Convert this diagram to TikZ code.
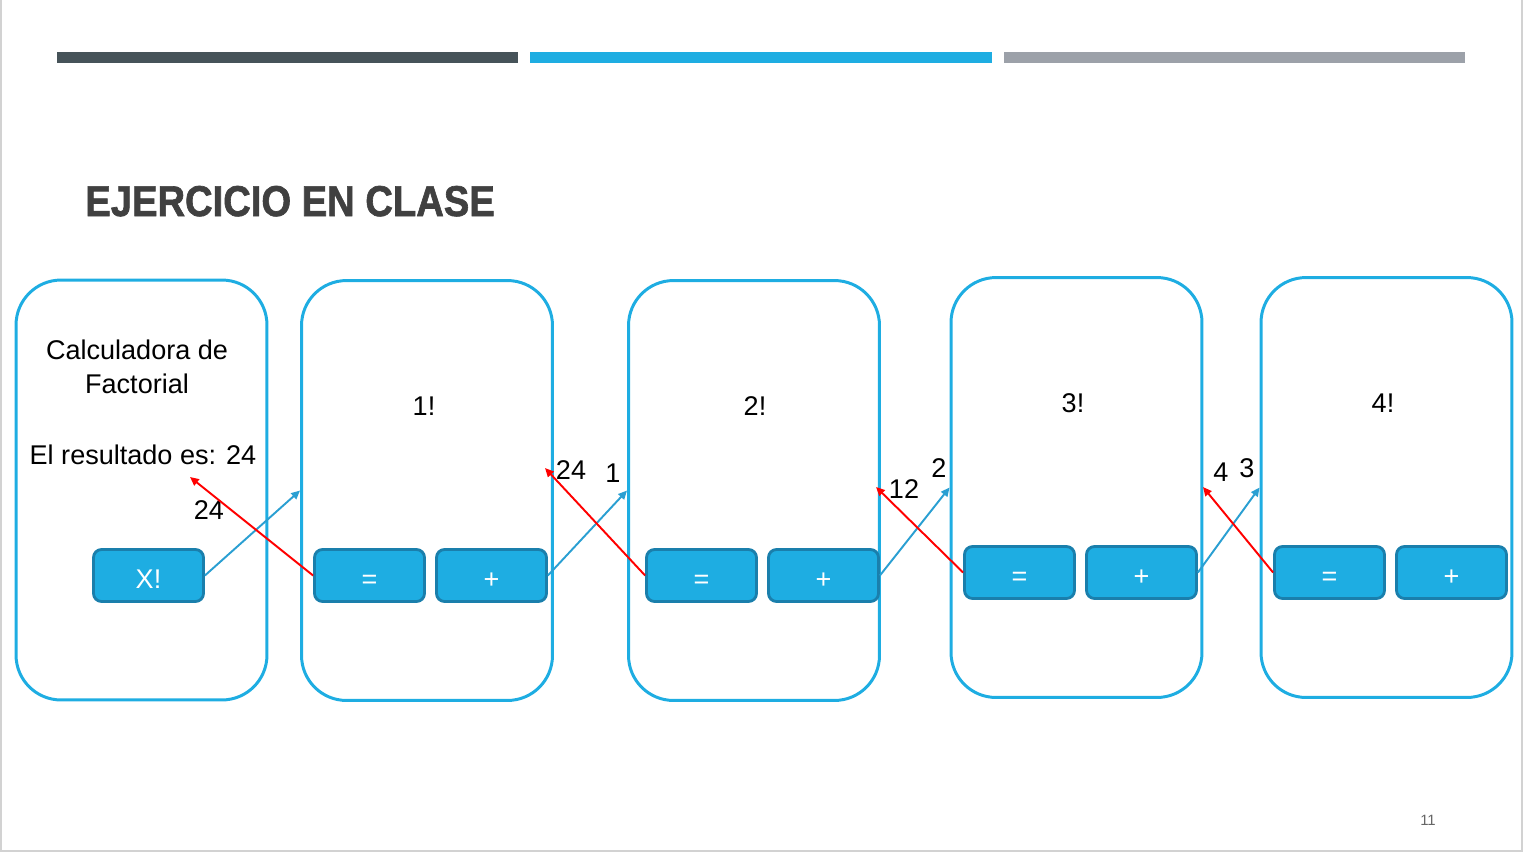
\documentclass[tikz,border=0pt]{standalone}
\usepackage{fontspec}
\setmainfont{Liberation Sans}
\newfontfamily\titfont{Liberation Sans Bold}[FakeBold=1.6]
\usetikzlibrary{arrows.meta}
\definecolor{azul}{HTML}{1EADE2}
\definecolor{azulosc}{HTML}{1A7FAC}
\definecolor{flecha}{HTML}{2A9FD2}
\definecolor{barra1}{HTML}{465359}
\definecolor{barra3}{HTML}{9CA1A9}
\definecolor{titulo}{HTML}{404040}
\newcommand{\txt}{\fontsize{15.4}{19.4}\selectfont}
\begin{document}
\begin{tikzpicture}[x = 0.02cm, y = -0.02cm,
	bigbox/.style = {draw = azul, line width = 1.7pt, rounded corners = 0.9cm, minimum width = 5.02cm, minimum height = 8.4cm, inner sep = 0},
	btn/.style = {draw = azulosc, fill = azul, line width = 1.6pt, rounded corners = 0.16cm, minimum width = 2.2cm, minimum height = 1.04cm, text = white, font = \txt, text height = 15pt, text depth = 0pt},
	lbl/.style = {font = \txt, inner sep = 0},
	fwd/.style = {draw = flecha, line width = 1.1pt, -{Triangle[length = 5pt, width = 4.5pt]}},
	back/.style = {draw = red, line width = 1.1pt, -{Triangle[length = 5pt, width = 4.5pt]}}]
	\useasboundingbox (0, 0) rectangle (1525, 853);
	\draw[gray!35, line width = 0.8pt] (1, 0) -- (1, 851) -- (1522, 851) -- (1522, 0);
	% barras de cabecera
	\fill[barra1] (57, 52) rectangle (518, 63);
	\fill[azul] (530, 52) rectangle (992, 63);
	\fill[barra3] (1004, 52) rectangle (1465, 63);
	\node[anchor = base west, inner sep = 0, text = titulo] (titulo) at (85, 216)
		{\scalebox{0.887}[1]{\fontsize{24.5}{28}\titfont EJERCICIO EN CLASE}};
	% cajas
	\foreach \n/\x/\y in {0/141.5/490, 1/427/490.5, 2/754/490.5, 3/1076.5/487.5, 4/1386.5/487.5}
	{
		\node[bigbox] (c\n) at (\x, \y) {};
	}
	\node[lbl, align = center] (calc) at (137, 367) {Calculadora de\\Factorial};
	\node[lbl] (res) at (143, 455) {El resultado es: 24};
	\foreach \n/\x/\y in {1/424/406, 2/755/406, 3/1073/403, 4/1383/403}
	{
		\node[lbl] (f\n) at (\x, \y) {\n!};
	}
	% botones
	\node[btn] (fx) at (148.5, 575.5) {X!};
	\foreach \n/\x/\y in {1/369.5/575.5, 2/701.5/575.5, 3/1019.5/572.5, 4/1329.5/572.5}
	{
		\node[btn] (eq\n) at (\x, \y) {=};
		\node[btn] (pl\n) at (\x + 122, \y) {+};
	}
	% valores
	\node[lbl] (v0) at (209, 510) {24};
	\node[lbl] (v1) at (571, 470) {24};
	\node[lbl] (v2) at (613, 473) {1};
	\node[lbl] (v3) at (904, 489) {12};
	\node[lbl] (v4) at (939, 468) {2};
	\node[lbl] (v5) at (1221, 472) {4};
	\node[lbl] (v6) at (1247, 468) {3};
	\coordinate (r0) at (190, 477);
	\coordinate (r1) at (545, 468);
	\coordinate (r2) at (876, 487);
	\coordinate (r3) at (1203, 487);
	% flechas
	\draw[fwd] (fx.east) -- (c1.west);
	\draw[fwd] (pl1.east) -- (c2.west);
	\draw[fwd] (pl2.east) -- (c3.west);
	\draw[fwd] (pl3.east) -- (c4.west);
	\draw[back] (eq1.west) -- (r0);
	\draw[back] (eq2.west) -- (r1);
	\draw[back] (eq3.west) -- (r2);
	\draw[back] (eq4.west) -- (r3);
	\node[font = \fontsize{8.5}{9}\selectfont, text = gray!80!black] (pag) at (1428, 820) {11};
\end{tikzpicture}
\end{document}
